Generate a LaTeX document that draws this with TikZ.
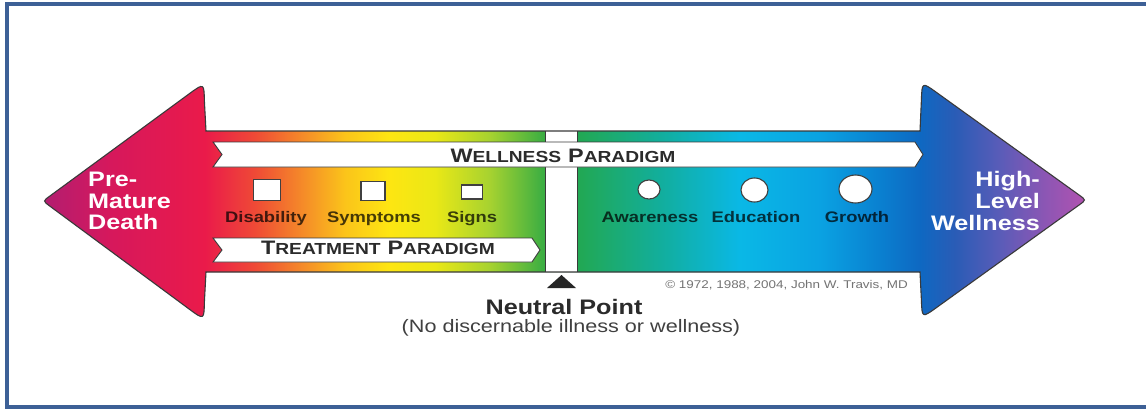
\documentclass[tikz,border=0pt]{standalone}
\usepackage{fontspec}
\setmainfont{Liberation Sans}[FakeStretch=1.2]
\usetikzlibrary{shapes.geometric}

% frame and outlines
\definecolor{frameblue}{HTML}{3D6096}
\definecolor{edgegray}{HTML}{3A3A3A}
\definecolor{inkgray}{HTML}{2B2B2B}
% spectrum stops
\definecolor{sA}{HTML}{B31D70}
\definecolor{sB}{HTML}{D6185C}
\definecolor{sC}{HTML}{EA1A4A}
\definecolor{sD}{HTML}{EF4A36}
\definecolor{sE}{HTML}{F58E28}
\definecolor{sF}{HTML}{FBC41A}
\definecolor{sG}{HTML}{FDE612}
\definecolor{sH}{HTML}{EAE816}
\definecolor{sI}{HTML}{A6D230}
\definecolor{sJ}{HTML}{3CAE42}
\definecolor{sK}{HTML}{22A852}
\definecolor{sL}{HTML}{12AE9C}
\definecolor{sM}{HTML}{0AB8E6}
\definecolor{sN}{HTML}{0AA2E2}
\definecolor{sO}{HTML}{0A80D0}
\definecolor{sP}{HTML}{0E68C2}
\definecolor{sQ}{HTML}{2A5CB6}
\definecolor{sR}{HTML}{5A5CB8}
\definecolor{sS}{HTML}{8C56B4}
\definecolor{sT}{HTML}{B252B0}

\pgfdeclarehorizontalshading{spectrum}{409bp}{%
  color(0bp)=(sA); color(45bp)=(sA); color(110bp)=(sB); color(205bp)=(sC);
  color(255bp)=(sD); color(305bp)=(sE); color(345bp)=(sF); color(390bp)=(sG);
  color(435bp)=(sH); color(490bp)=(sI); color(543bp)=(sJ); color(577bp)=(sK);
  color(660bp)=(sL); color(740bp)=(sM); color(820bp)=(sN); color(880bp)=(sO);
  color(920bp)=(sP); color(955bp)=(sQ); color(1000bp)=(sR); color(1045bp)=(sS);
  color(1086bp)=(sT); color(1146bp)=(sT)}

% fake small caps: large initial, smaller rest
\newcommand{\fsc}[2]{{\fontsize{19.5bp}{20bp}\selectfont #1}{\fontsize{16bp}{17bp}\selectfont #2}}

% double-headed arrow outline: heads with rounded corners, sharp shaft joints
\def\arrowpath{(206,131) -- (920,131) -- (921.4,100)
  .. controls (922,82) and (922,82) .. (936.6,92.5) -- (1079.5,195.3)
  .. controls (1086,200) and (1086,200) .. (1079.5,204.7) -- (936.6,307.5)
  .. controls (922,318) and (922,318) .. (921.4,300) -- (920,272)
  -- (206,272) -- (204.4,302)
  .. controls (204,320) and (204,320) .. (189.5,309.3) -- (49.4,205.8)
  .. controls (43,201) and (43,201) .. (49.5,196.3) -- (189.5,93.6)
  .. controls (204,83) and (204,83) .. (204.4,101) -- cycle}

\begin{document}
\begin{tikzpicture}[x=1bp,y=-1bp,
  outline/.style={draw=edgegray, line width=1.1bp},
  band/.style={fill=white, draw=edgegray, line width=0.9bp},
  endtxt/.style={text=white, font=\bfseries\fontsize{21bp}{21.7bp}\selectfont, inner sep=0},
  paradigm/.style={text=inkgray, font=\bfseries, inner sep=0, anchor=base},
  lab/.style={text=black, text opacity=0.72, font=\bfseries\fontsize{15.3bp}{16bp}\selectfont, inner sep=0, anchor=base},
  sqbox/.style={draw=black!75, fill=white, line width=1.1bp, inner sep=0},
  dot/.style={ellipse, draw=black!75, fill=white, line width=1.1bp, inner sep=0}]

\useasboundingbox (0,0) rectangle (1146,409);
\fill[white] (0,0) rectangle (1146,409);

% frame
\draw[frameblue, line width=4.5bp] (1146,4) -- (7,4) -- (7,407) -- (1146,407);

% colour spectrum inside the arrow
\begin{scope}
  \clip \arrowpath;
  \node[anchor=north west, inner sep=0, outer sep=0] (spec) at (0,0) {\pgfuseshading{spectrum}};
\end{scope}

% neutral bar
\fill[white] (545,131) rectangle (577,272);
\draw[edgegray, line width=1bp] (545,131) -- (545,272) (577,131) -- (577,272);

\draw[outline] \arrowpath;

% paradigm banners
\filldraw[band] (213,142) -- (915,142) -- (923,154.5) -- (915,167) -- (213,167) -- (222,154.5) -- cycle;
\filldraw[band] (213,238) -- (532,238) -- (540,250) -- (532,262) -- (213,262) -- (222,250) -- cycle;

\node[paradigm] (wp) at (563,162.3) {\fsc{W}{ELLNESS}\hspace{7bp}\fsc{P}{ARADIGM}};
\node[paradigm] (tp) at (378,254) {\fsc{T}{REATMENT}\hspace{7bp}\fsc{P}{ARADIGM}};

% end labels
\node[endtxt, align=left, anchor=west] (pmd) at (88,201) {Pre-\\Mature\\Death};
\node[endtxt, align=right, anchor=east] (hlw) at (1040,201) {High-\\Level\\Wellness};

% illness markers
\node[sqbox, minimum width=27bp, minimum height=21bp] (sqd) at (267,190) {};
\node[sqbox, minimum width=24bp, minimum height=19bp] (sqs) at (373,191) {};
\node[sqbox, minimum width=21bp, minimum height=14bp] (sqg) at (472,192) {};
\node[lab] (ldis) at (266,222) {Disability};
\node[lab] (lsym) at (374,222) {Symptoms};
\node[lab] (lsig) at (472,222) {Signs};

% wellness markers
\node[dot, minimum width=22bp, minimum height=19bp] (caw) at (649,189.5) {};
\node[dot, minimum width=27bp, minimum height=24bp] (ced) at (754.5,190) {};
\node[dot, minimum width=33bp, minimum height=28bp] (cgr) at (855.5,189) {};
\node[lab] (law) at (650,222) {Awareness};
\node[lab] (led) at (756,222) {Education};
\node[lab] (lgr) at (857,222) {Growth};

% copyright
\node[text=black!55, font=\fontsize{11.2bp}{12bp}\selectfont, inner sep=0, anchor=base east] (copy) at (908,288.3) {© 1972, 1988, 2004, John W. Travis, MD};

% neutral point marker and caption
\fill[black!85] (561.5,275) -- (576,288) -- (547,288) -- cycle;
\node[text=inkgray, font=\bfseries\fontsize{21bp}{22bp}\selectfont, inner sep=0, anchor=base] (np) at (564,314.3) {Neutral Point};
\node[text=black!75, font=\fontsize{18bp}{19bp}\selectfont, inner sep=0, anchor=base] (npc) at (571,332) {(No discernable illness or wellness)};
\end{tikzpicture}
\end{document}
